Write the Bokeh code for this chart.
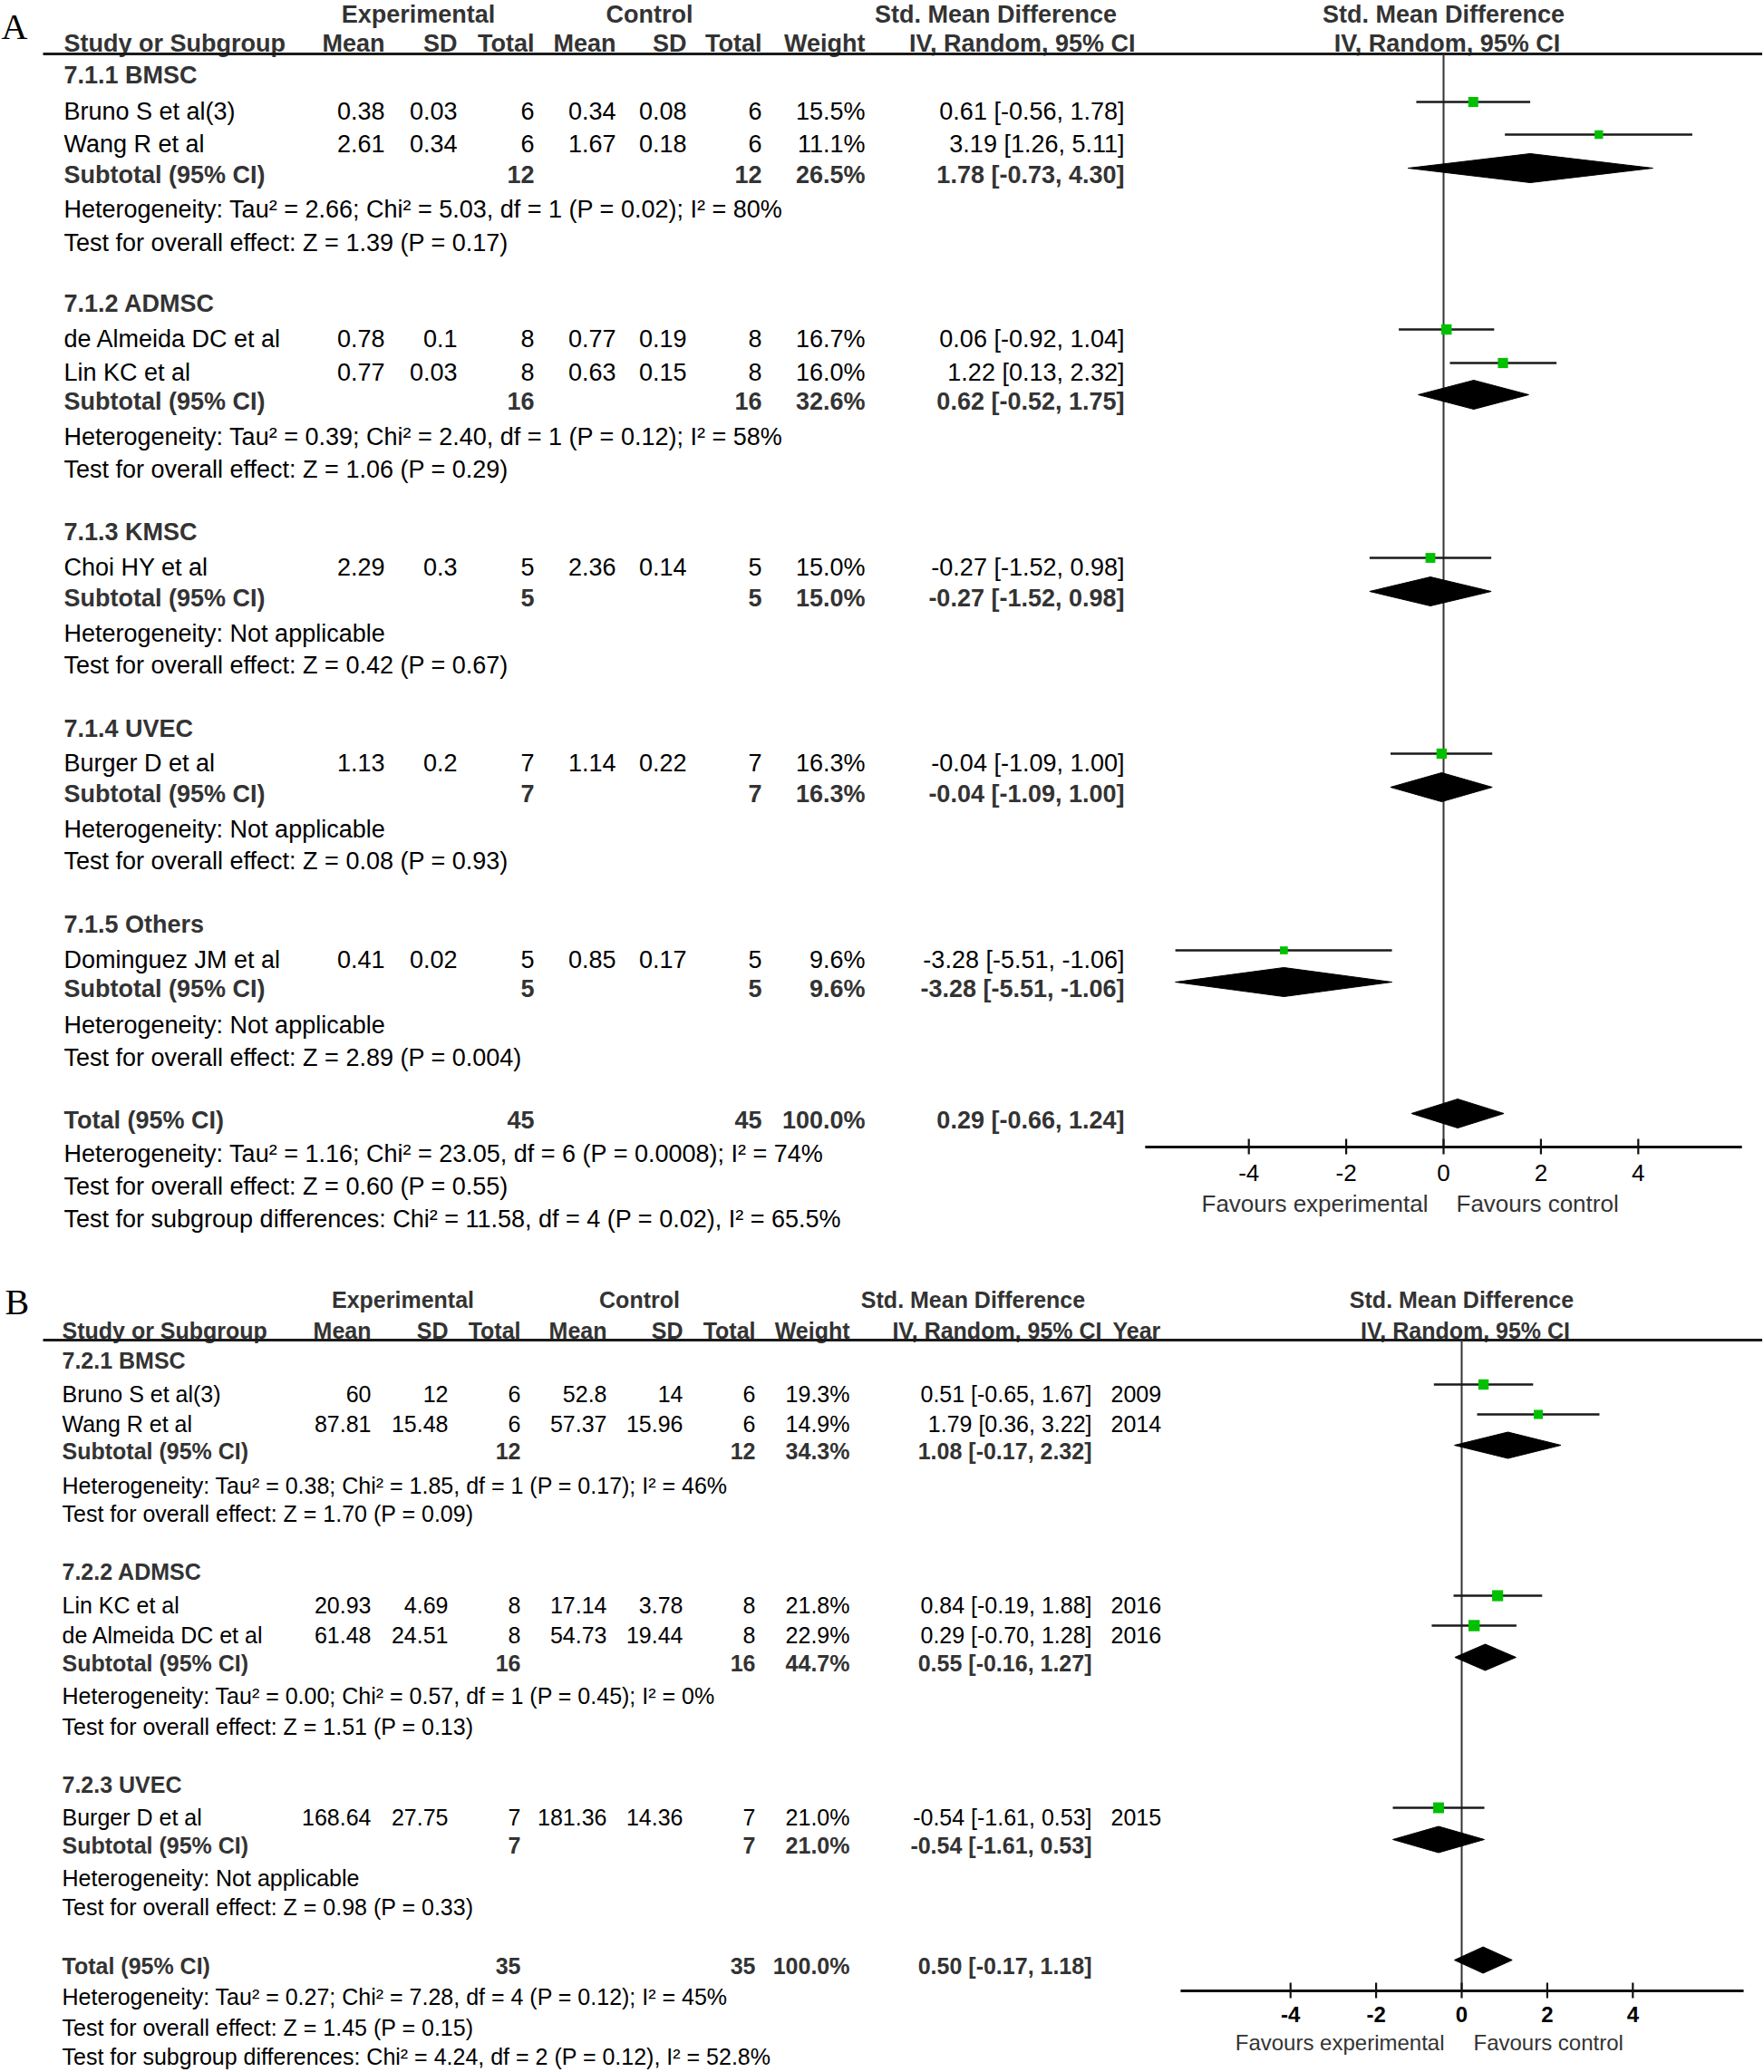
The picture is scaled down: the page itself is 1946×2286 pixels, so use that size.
from bokeh.plotting import figure
from bokeh.models import Range1d, ColumnDataSource
from bokeh.core.properties import value
from bokeh.embed import file_html
from bokeh.resources import INLINE
import math

# ---------------- Panel A data ----------------
A_groups = ["7.1.1 BMSC", "7.1.2 ADMSC", "7.1.3 KMSC", "7.1.4 UVEC", "7.1.5 Others"]
A_studies = ["Bruno S et al(3)", "Wang R et al", "de Almeida DC et al", "Lin KC et al",
             "Choi HY et al", "Burger D et al", "Dominguez JM et al"]
A_exp_mean = [0.38, 2.61, 0.78, 0.77, 2.29, 1.13, 0.41]
A_exp_sd = [0.03, 0.34, 0.1, 0.03, 0.3, 0.2, 0.02]
A_exp_n = [6, 6, 8, 8, 5, 7, 5]
A_ctl_mean = [0.34, 1.67, 0.77, 0.63, 2.36, 1.14, 0.85]
A_ctl_sd = [0.08, 0.18, 0.19, 0.15, 0.14, 0.22, 0.17]
A_ctl_n = [6, 6, 8, 8, 5, 7, 5]
A_weight = [15.5, 11.1, 16.7, 16.0, 15.0, 16.3, 9.6]
A_smd = [0.61, 3.19, 0.06, 1.22, -0.27, -0.04, -3.28]
A_lo = [-0.56, 1.26, -0.92, 0.13, -1.52, -1.09, -5.51]
A_hi = [1.78, 5.11, 1.04, 2.32, 0.98, 1.00, -1.06]
A_sub_exp_n = [12, 16, 5, 7, 5]
A_sub_ctl_n = [12, 16, 5, 7, 5]
A_sub_weight = [26.5, 32.6, 15.0, 16.3, 9.6]
A_sub_smd = [1.78, 0.62, -0.27, -0.04, -3.28]
A_sub_lo = [-0.73, -0.52, -1.52, -1.09, -5.51]
A_sub_hi = [4.30, 1.75, 0.98, 1.00, -1.06]
A_sub_het = ["Tau² = 2.66; Chi² = 5.03, df = 1 (P = 0.02); I² = 80%",
             "Tau² = 0.39; Chi² = 2.40, df = 1 (P = 0.12); I² = 58%",
             "Not applicable", "Not applicable", "Not applicable"]
A_sub_z = ["Z = 1.39 (P = 0.17)", "Z = 1.06 (P = 0.29)", "Z = 0.42 (P = 0.67)",
           "Z = 0.08 (P = 0.93)", "Z = 2.89 (P = 0.004)"]
A_tot_n = [45, 45]
A_tot_weight = 100.0
A_tot_smd = [0.29, -0.66, 1.24]
A_tot_het = "Tau² = 1.16; Chi² = 23.05, df = 6 (P = 0.0008); I² = 74%"
A_tot_z = "Z = 0.60 (P = 0.55)"
A_tot_sub = "Chi² = 11.58, df = 4 (P = 0.02), I² = 65.5%"
A_ticks = [-4, -2, 0, 2, 4]
A_axis_lim = [-6.13, 6.13]

# ---------------- Panel B data ----------------
B_groups = ["7.2.1 BMSC", "7.2.2 ADMSC", "7.2.3 UVEC"]
B_studies = ["Bruno S et al(3)", "Wang R et al", "Lin KC et al", "de Almeida DC et al", "Burger D et al"]
B_exp_mean = [60, 87.81, 20.93, 61.48, 168.64]
B_exp_sd = [12, 15.48, 4.69, 24.51, 27.75]
B_exp_n = [6, 6, 8, 8, 7]
B_ctl_mean = [52.8, 57.37, 17.14, 54.73, 181.36]
B_ctl_sd = [14, 15.96, 3.78, 19.44, 14.36]
B_ctl_n = [6, 6, 8, 8, 7]
B_weight = [19.3, 14.9, 21.8, 22.9, 21.0]
B_smd = [0.51, 1.79, 0.84, 0.29, -0.54]
B_lo = [-0.65, 0.36, -0.19, -0.70, -1.61]
B_hi = [1.67, 3.22, 1.88, 1.28, 0.53]
B_year = [2009, 2014, 2016, 2016, 2015]
B_sub_exp_n = [12, 16, 7]
B_sub_ctl_n = [12, 16, 7]
B_sub_weight = [34.3, 44.7, 21.0]
B_sub_smd = [1.08, 0.55, -0.54]
B_sub_lo = [-0.17, -0.16, -1.61]
B_sub_hi = [2.32, 1.27, 0.53]
B_sub_het = ["Tau² = 0.38; Chi² = 1.85, df = 1 (P = 0.17); I² = 46%",
             "Tau² = 0.00; Chi² = 0.57, df = 1 (P = 0.45); I² = 0%",
             "Not applicable"]
B_sub_z = ["Z = 1.70 (P = 0.09)", "Z = 1.51 (P = 0.13)", "Z = 0.98 (P = 0.33)"]
B_tot_n = [35, 35]
B_tot_weight = 100.0
B_tot_smd = [0.50, -0.17, 1.18]
B_tot_het = "Tau² = 0.27; Chi² = 7.28, df = 4 (P = 0.12); I² = 45%"
B_tot_z = "Z = 1.45 (P = 0.15)"
B_tot_sub = "Chi² = 4.24, df = 2 (P = 0.12), I² = 52.8%"
B_ticks = [-4, -2, 0, 2, 4]
B_axis_lim = [-6.57, 6.59]

# ---------------- page / figure ----------------
FONT = "Liberation Sans"
SERIF = "Liberation Serif"
BOLD_C = "#333333"
GREEN = "#00c000"
W_PX, H_PX = 1944, 2284
REF_W, REF_H = 1944, 2284

A_ZERO_X, A_UNIT = 1592.0, 53.7
B_ZERO_X, B_UNIT = 1612.0, 47.2

p = figure(width=W_PX, height=H_PX, x_range=Range1d(0, REF_W), y_range=Range1d(REF_H, 0),
           x_axis_type=None, y_axis_type=None, output_backend="svg",
           toolbar_location=None, min_border=0)
p.outline_line_color = None
p.background_fill_color = "white"
p.border_fill_color = "white"
p.extra_x_ranges = {
    "fa": Range1d(-A_ZERO_X / A_UNIT, (REF_W - A_ZERO_X) / A_UNIT),
    "fb": Range1d(-B_ZERO_X / B_UNIT, (REF_W - B_ZERO_X) / B_UNIT),
}


def txt(xs, ys, texts, align="left", bold=False, size="27px", color="black",
        font=FONT, xr=None, x_offset=0):
    src = ColumnDataSource(dict(x=list(xs), y=list(ys), t=[str(t) for t in texts]))
    kw = {}
    if xr:
        kw["x_range_name"] = xr
    p.text(x="x", y="y", text="t", source=src, text_align=align, text_baseline="middle",
           text_font=value(font), text_font_size=value(size),
           text_font_style="bold" if bold else "normal", text_color=color,
           x_offset=x_offset, **kw)


def fmt(v):
    return f"{v:g}"


def ci(e, l, h):
    return f"{e:.2f} [{l:.2f}, {h:.2f}]"


def draw_panel(d):
    fs = d["fs"]
    xr = d["xr"]
    cx = d["col_x"]
    nx = d["name_x"]
    # panel letter
    txt([d["letter_xy"][0]], [d["letter_xy"][1]], [d["letter"]], "left", size="40px",
        font=SERIF)
    # header row 1
    h1 = d["hdr1_y"]
    txt([d["exp_x"], d["ctl_x"], d["smd_x"]], [h1] * 3,
        ["Experimental", "Control", "Std. Mean Difference"], "center", True, fs, BOLD_C)
    txt([0], [h1], ["Std. Mean Difference"], "center", True, fs, BOLD_C, xr=xr)
    # header row 2
    h2 = d["hdr2_y"]
    txt([nx], [h2], ["Study or Subgroup"], "left", True, fs, BOLD_C)
    hdr_labels = ["Mean", "SD", "Total", "Mean", "SD", "Total", "Weight", "IV, Random, 95% CI"]
    txt(d["hdr_x"], [h2] * len(hdr_labels), hdr_labels, "right", True, fs, BOLD_C)
    if d.get("year") is not None:
        txt([d["year_hdr_x"]], [h2], ["Year"], "left", True, fs, BOLD_C)
    txt([0], [h2], ["IV, Random, 95% CI"], "center", True, fs, BOLD_C, xr=xr, x_offset=4)
    ly = d["line_y"]
    p.segment(x0=[d["line_x0"]], x1=[REF_W], y0=[ly], y1=[ly], line_width=3, line_color="#1a1a1a")

    # group labels
    txt([nx] * len(d["groups"]), d["grp_y"], d["groups"], "left", True, fs, BOLD_C)
    # studies
    sy = d["study_y"]
    n = len(d["studies"])
    txt([nx] * n, sy, d["studies"], "left", False, fs)
    cols = [
        [fmt(v) for v in d["exp_mean"]],
        [fmt(v) for v in d["exp_sd"]],
        [str(v) for v in d["exp_n"]],
        [fmt(v) for v in d["ctl_mean"]],
        [fmt(v) for v in d["ctl_sd"]],
        [str(v) for v in d["ctl_n"]],
        [f"{w:.1f}%" for w in d["weight"]],
        [ci(e, l, h) for e, l, h in zip(d["smd"], d["lo"], d["hi"])],
    ]
    for i, c in enumerate(cols):
        txt([cx[i]] * n, sy, c, "right", False, fs)
    if d.get("year") is not None:
        txt([d["year_x"]] * n, sy, d["year"], "left", False, fs)

    # subtotals
    suy = d["sub_y"]
    k = len(suy)
    txt([nx] * k, suy, ["Subtotal (95% CI)"] * k, "left", True, fs, BOLD_C)
    txt([cx[2]] * k, suy, d["sub_exp_n"], "right", True, fs, BOLD_C)
    txt([cx[5]] * k, suy, d["sub_ctl_n"], "right", True, fs, BOLD_C)
    txt([cx[6]] * k, suy, [f"{w:.1f}%" for w in d["sub_weight"]], "right", True, fs, BOLD_C)
    txt([cx[7]] * k, suy, [ci(e, l, h) for e, l, h in zip(d["sub_smd"], d["sub_lo"], d["sub_hi"])],
        "right", True, fs, BOLD_C)
    txt([nx] * k, d["het_y"], ["Heterogeneity: " + h for h in d["sub_het"]], "left", False, fs)
    txt([nx] * k, d["test_y"], ["Test for overall effect: " + z for z in d["sub_z"]], "left", False, fs)

    # overall
    ty = d["tot_y"]
    txt([nx], [ty], ["Total (95% CI)"], "left", True, fs, BOLD_C)
    txt([cx[2], cx[5]], [ty, ty], d["tot_n"], "right", True, fs, BOLD_C)
    txt([cx[6]], [ty], [f"{d['tot_weight']:.1f}%"], "right", True, fs, BOLD_C)
    txt([cx[7]], [ty], [ci(*d["tot_smd"])], "right", True, fs, BOLD_C)
    txt([nx] * 3, d["tot_lines_y"],
        ["Heterogeneity: " + d["tot_het"], "Test for overall effect: " + d["tot_z"],
         "Test for subgroup differences: " + d["tot_sub"]], "left", False, fs)

    # ---------- forest ----------
    ay = d["axis_y"]
    p.segment(x0=[0], x1=[0], y0=[ly], y1=[ay], line_width=2, line_color="#333333", x_range_name=xr)
    my = [y + d["study_dy"] for y in sy]
    p.segment(x0=d["lo"], x1=d["hi"], y0=my, y1=my, line_width=2.6, line_color="#1a1a1a",
              x_range_name=xr)
    sizes = [d["sq_k"] * math.sqrt(w) for w in d["weight"]]
    p.scatter(x=d["smd"], y=my, size=sizes, marker="square", fill_color=GREEN,
              line_color=None, x_range_name=xr)
    dh = d["dia_h"]
    dxs, dys = [], []
    for e, l, h, y in zip(d["sub_smd"] + [d["tot_smd"][0]], d["sub_lo"] + [d["tot_smd"][1]],
                          d["sub_hi"] + [d["tot_smd"][2]], suy + [ty]):
        yc = y + d["dia_dy"]
        dxs.append([l, e, h, e])
        dys.append([yc, yc - dh, yc, yc + dh])
    p.patches(xs=dxs, ys=dys, fill_color="black", line_color="black", line_width=1,
              x_range_name=xr)
    # axis
    lim = d["axis_lim"]
    p.segment(x0=[lim[0]], x1=[lim[1]], y0=[ay], y1=[ay], line_width=3, line_color="#111111",
              x_range_name=xr)
    tk = d["ticks"]
    p.segment(x0=tk, x1=tk, y0=[ay - 9] * len(tk), y1=[ay + 8] * len(tk), line_width=2.2,
              line_color="#111111", x_range_name=xr)
    txt(tk, [d["tick_lab_y"]] * len(tk), [str(t) for t in tk], "center", d["tick_bold"],
        d["tick_fs"], "black", xr=xr)
    txt([0], [d["fav_y"]], ["Favours experimental"], "right", False, d["tick_fs"], "#333333",
        xr=xr, x_offset=d["fav_off"][0])
    txt([0], [d["fav_y"]], ["Favours control"], "left", False, d["tick_fs"], "#333333",
        xr=xr, x_offset=d["fav_off"][1])


panel_A = dict(
    letter="A", letter_xy=(1, 29), fs="27px", xr="fa",
    exp_x=461, ctl_x=716, smd_x=1098, hdr1_y=15, hdr2_y=47, line_y=59, line_x0=47,
    name_x=70, col_x=[424, 504, 589, 679, 757, 840, 954, 1240],
    hdr_x=[424, 504, 589, 679, 757, 840, 954, 1252],
    groups=A_groups, grp_y=[82, 334, 586, 803, 1019],
    studies=A_studies, study_y=[122, 158, 373, 410, 625, 841, 1058],
    exp_mean=A_exp_mean, exp_sd=A_exp_sd, exp_n=A_exp_n,
    ctl_mean=A_ctl_mean, ctl_sd=A_ctl_sd, ctl_n=A_ctl_n,
    weight=A_weight, smd=A_smd, lo=A_lo, hi=A_hi,
    sub_y=[192, 442, 659, 875, 1090], het_y=[230, 481, 698, 914, 1130],
    test_y=[267, 517, 733, 949, 1166],
    sub_exp_n=A_sub_exp_n, sub_ctl_n=A_sub_ctl_n, sub_weight=A_sub_weight,
    sub_smd=A_sub_smd, sub_lo=A_sub_lo, sub_hi=A_sub_hi, sub_het=A_sub_het, sub_z=A_sub_z,
    tot_y=1235, tot_n=A_tot_n, tot_weight=A_tot_weight, tot_smd=A_tot_smd,
    tot_het=A_tot_het, tot_z=A_tot_z, tot_sub=A_tot_sub, tot_lines_y=[1272, 1308, 1344],
    axis_y=1265, axis_lim=A_axis_lim, ticks=A_ticks, tick_lab_y=1293, tick_fs="26px",
    tick_bold=False, fav_y=1327, fav_off=(-17, 14),
    study_dy=-10, dia_dy=-7, dia_h=16, sq_k=2.8,
)

panel_B = dict(
    letter="B", letter_xy=(5, 1436), fs="25px", xr="fb",
    exp_x=444, ctl_x=705, smd_x=1073, hdr1_y=1433, hdr2_y=1467, line_y=1478, line_x0=47,
    name_x=68, col_x=[409, 494, 574, 669, 753, 833, 937, 1204],
    hdr_x=[409, 494, 574, 669, 753, 833, 937, 1215],
    year=B_year, year_x=1225, year_hdr_x=1227,
    groups=B_groups, grp_y=[1500, 1733, 1968],
    studies=B_studies, study_y=[1537, 1570, 1770, 1803, 2004],
    exp_mean=B_exp_mean, exp_sd=B_exp_sd, exp_n=B_exp_n,
    ctl_mean=B_ctl_mean, ctl_sd=B_ctl_sd, ctl_n=B_ctl_n,
    weight=B_weight, smd=B_smd, lo=B_lo, hi=B_hi,
    sub_y=[1600, 1834, 2035], het_y=[1638, 1870, 2071], test_y=[1669, 1904, 2103],
    sub_exp_n=B_sub_exp_n, sub_ctl_n=B_sub_ctl_n, sub_weight=B_sub_weight,
    sub_smd=B_sub_smd, sub_lo=B_sub_lo, sub_hi=B_sub_hi, sub_het=B_sub_het, sub_z=B_sub_z,
    tot_y=2168, tot_n=B_tot_n, tot_weight=B_tot_weight, tot_smd=B_tot_smd,
    tot_het=B_tot_het, tot_z=B_tot_z, tot_sub=B_tot_sub, tot_lines_y=[2202, 2236, 2268],
    axis_y=2196, axis_lim=B_axis_lim, ticks=B_ticks, tick_lab_y=2222, tick_fs="24px",
    tick_bold=True, fav_y=2253, fav_off=(-19, 13),
    study_dy=-10, dia_dy=-6, dia_h=14.5, sq_k=2.6,
)

draw_panel(panel_A)
draw_panel(panel_B)

open("out.html", "w").write(file_html(p, INLINE))
